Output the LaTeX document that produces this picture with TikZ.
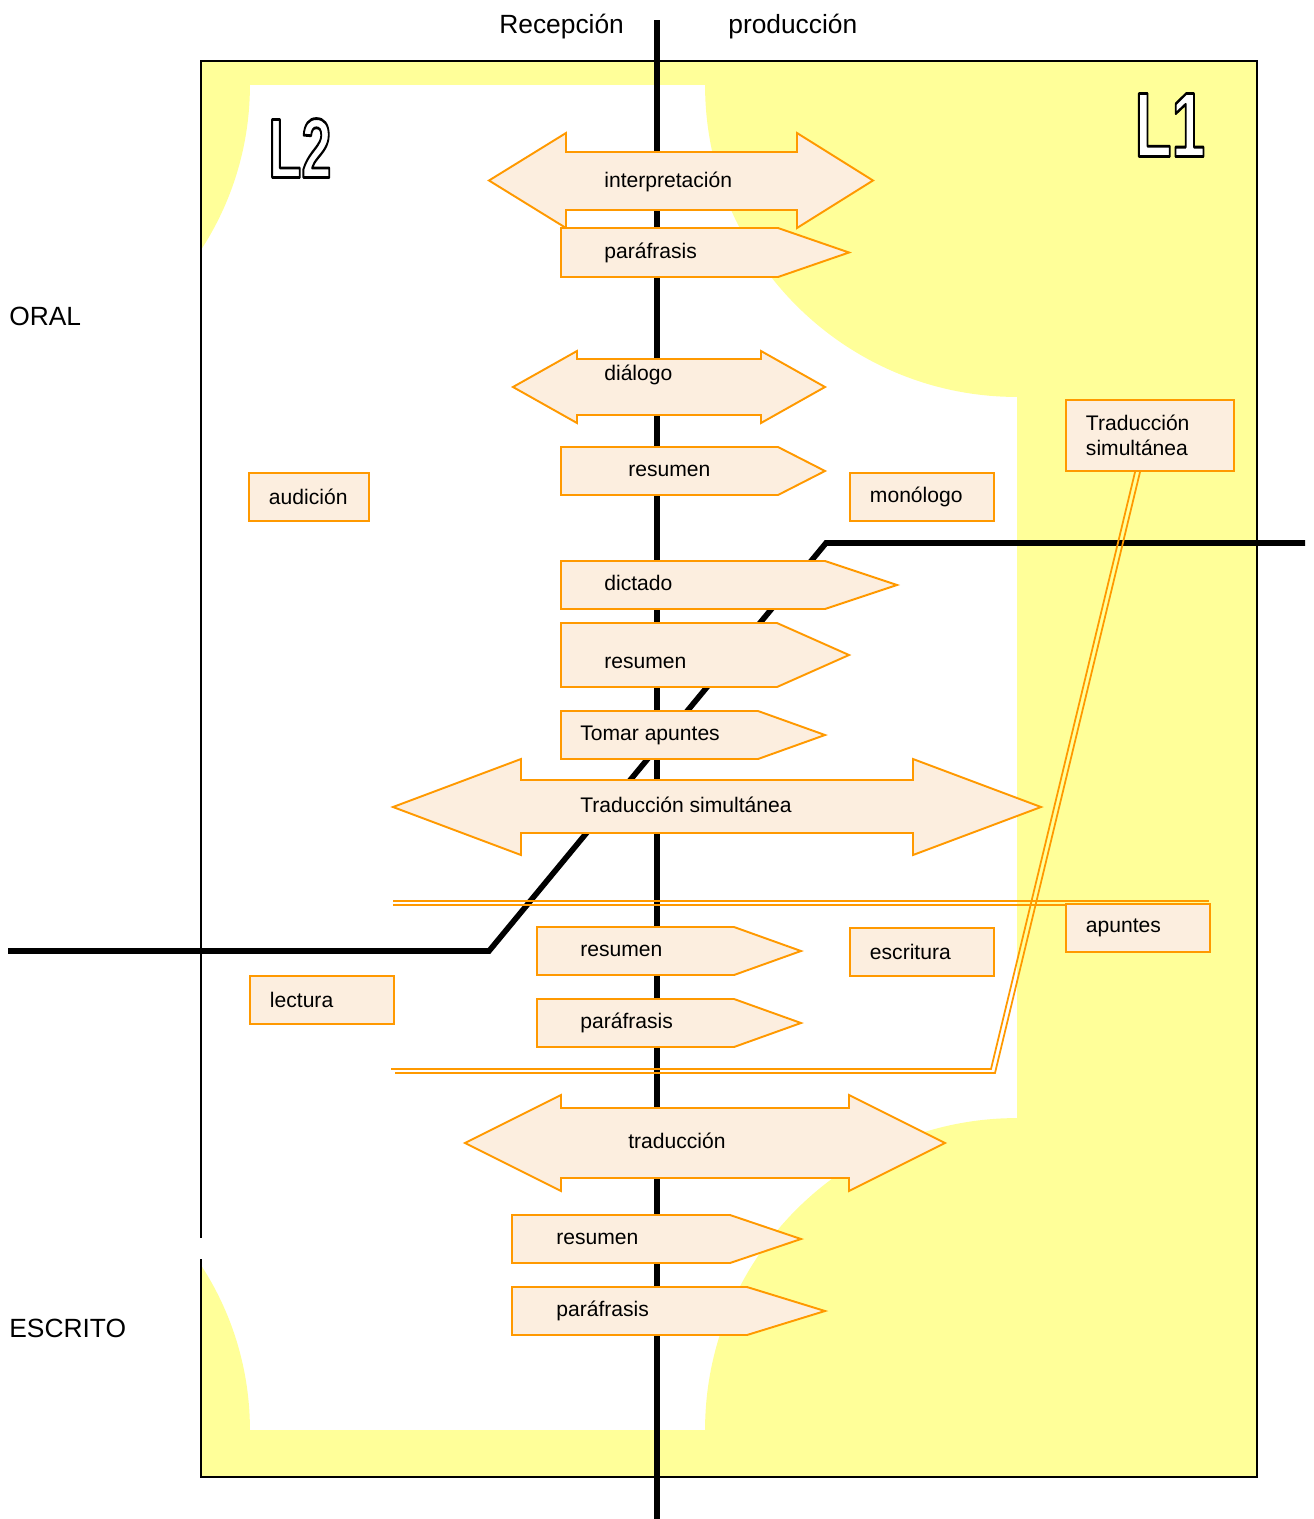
\documentclass[tikz,border=0pt]{standalone}
\usepackage{fontspec}
\setmainfont{Liberation Sans}
\definecolor{amarillo}{HTML}{FFFF99}
\definecolor{durazno}{HTML}{FCEEDF}
\definecolor{naranja}{HTML}{FF9900}

\tikzset{
  flecha/.style={draw=naranja, fill=durazno, line width=1.1pt},
  cajita/.style={draw=naranja, fill=durazno, line width=1.1pt, anchor=north west,
    inner xsep=0.4cm, inner ysep=0pt, align=left, minimum height=0.96cm},
  rotulo/.style={anchor=base west, inner sep=0pt},
  grande/.style={font=\fontsize{15}{18}\selectfont},
  eje/.style={line width=3.2pt},
  doble/.style={draw=naranja, line width=1pt},
}

% x izq, arriba, abajo, inicio punta, punta
\newcommand{\punta}[5]{\draw[flecha] (#1,#2) -- (#4,#2) -- (#5,{(#2+#3)/2}) -- (#4,#3) -- (#1,#3) -- cycle;}
% punta izq, base izq, base der, punta der, y: cabeza arriba, cuerpo arriba, cuerpo abajo, cabeza abajo
\newcommand{\doblepunta}[8]{\draw[flecha] (#1,{(#5+#8)/2}) -- (#2,#5) -- (#2,#6) -- (#3,#6) -- (#3,#5) -- (#4,{(#5+#8)/2}) -- (#3,#8) -- (#3,#7) -- (#2,#7) -- (#2,#8) -- cycle;}
% letras huecas (relleno blanco, contorno negro)
\newcommand{\hueca}[1]{{\color{white}\special{pdf:literal direct 2 Tr 1.6 w 1 j 0 0 0 RG}#1\special{pdf:literal direct 0 Tr 0.4 w 0 j}}}

\begin{document}
\begin{tikzpicture}[x=0.02cm, y=-0.02cm, font=\fontsize{12}{14.2}\selectfont]
  \useasboundingbox (0,0) rectangle (1314,1519);
  % fondo
  \fill[amarillo] (201,61) rectangle (1257,1477);
  \fill[white] (201,85) rectangle (1017,1430);
  \begin{scope}
    \clip (201,85) rectangle (1017,1430);
    \fill[amarillo] (-52,85) circle[radius=6.04cm];
    \fill[amarillo] (-52,1430) circle[radius=6.04cm];
    \fill[amarillo] (1017,85) circle[radius=6.24cm];
    \fill[amarillo] (1017,1430) circle[radius=6.24cm];
  \end{scope}
  \draw[line width=1.6pt] (201,61) rectangle (1257,1477);
  \fill[white] (197,1238) rectangle (205,1259);

  % ejes
  \draw[eje] (657,20) -- (657,1519);
  \draw[eje, line join=miter] (8,951) -- (489,951) -- (826,543) -- (1305,543);

  % lineas dobles
  \foreach \d in {-2,2} {
    \draw[doble, shift={(0,\d)}] (393,903) -- (1209,903);
    \draw[doble, shift={(\d,\d)}] (393,1071) -- (993,1071) -- (1138,470);
  }

  % flechas
  \doblepunta{489}{566}{797}{873}{133}{152}{210}{228}
  \punta{561}{228}{277}{778}{849}
  \doblepunta{513}{577}{761}{825}{351}{359}{415}{423}
  \punta{561}{447}{495}{778}{825}
  \punta{561}{561}{609}{825}{897}
  \punta{561}{623}{687}{777}{849}
  \punta{561}{711}{759}{758}{825}
  \doblepunta{393}{521}{913}{1041}{759}{780}{833}{855}
  \punta{537}{927}{975}{734}{801}
  \punta{537}{999}{1047}{734}{801}
  \doblepunta{465}{561}{849}{945}{1095}{1108}{1178}{1191}
  \punta{512}{1215}{1263}{730}{801}
  \punta{512}{1287}{1335}{747}{825}

  \node[rotulo] (interp) at (604,187) {interpretación};
  \node[rotulo] (parafA) at (604,258) {paráfrasis};
  \node[rotulo] (dialogo) at (604,380) {diálogo};
  \node[rotulo] (resumA) at (628,476) {resumen};
  \node[rotulo] (dictado) at (604,590) {dictado};
  \node[rotulo] (resumB) at (604,668) {resumen};
  \node[rotulo] (tomar) at (580,740) {Tomar apuntes};
  \node[rotulo] (trsim) at (580,812) {Traducción simultánea};
  \node[rotulo] (resumC) at (580,956) {resumen};
  \node[rotulo] (parafB) at (580,1028) {paráfrasis};
  \node[rotulo] (traduc) at (628,1148) {traducción};
  \node[rotulo] (resumD) at (556,1244) {resumen};
  \node[rotulo] (parafC) at (556,1316) {paráfrasis};

  % cajas
  \node[cajita, text width=1.6cm] (audicion) at (248,472) {audición};
  \node[cajita, text width=2.08cm] (monologo) at (849,472) {monólogo};
  \node[cajita, text width=2.56cm, minimum height=1.42cm] (tsbox) at (1065,399) {Traducción\\simultánea};
  \node[cajita, text width=2.08cm] (escritura) at (849,927) {escritura};
  \node[cajita, text width=2.08cm] (apuntes) at (1065,903) {apuntes};
  \node[cajita, text width=2.08cm] (lectura) at (249,975) {lectura};

  % rotulos
  \node[rotulo, grande] (recep) at (499,33) {Recepción};
  \node[rotulo, grande] (produc) at (728,33) {producción};
  \node[rotulo, grande] (oral) at (9,325) {ORAL};
  \node[rotulo, grande] (escrito) at (9,1337) {ESCRITO};
  \node (ldos) at (300,148) {\fontsize{48}{48}\selectfont\bfseries\scalebox{0.64}[1]{\hueca{L2}}};
  \node (luno) at (1170,125) {\fontsize{52}{52}\selectfont\bfseries\scalebox{0.66}[1]{\hueca{L1}}};
\end{tikzpicture}
\end{document}
